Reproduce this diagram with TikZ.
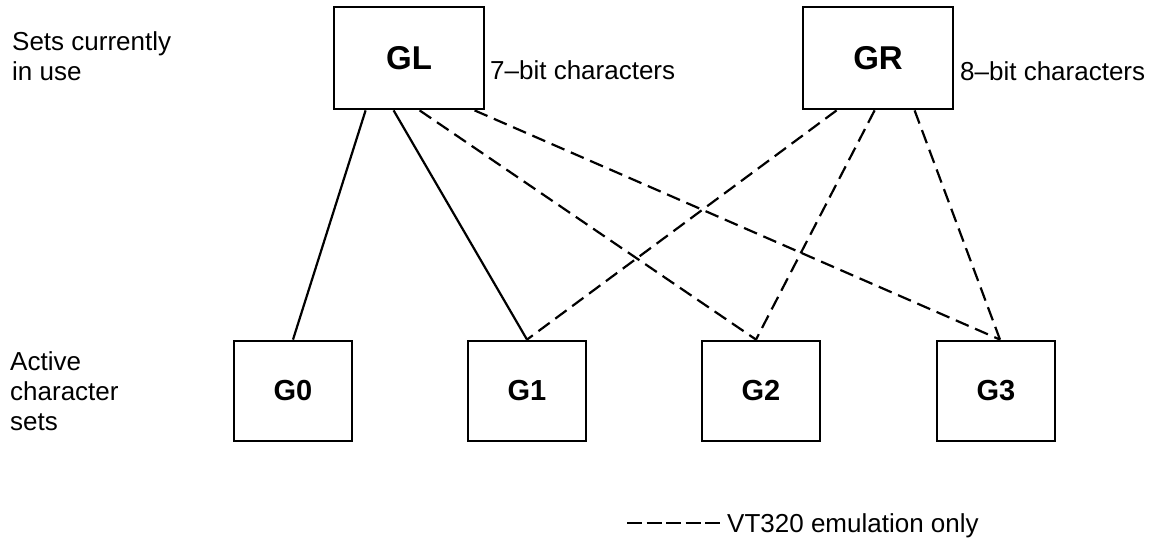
\documentclass[tikz,border=0pt]{standalone}
\usepackage{fontspec}
\setmainfont{Liberation Sans}
\usetikzlibrary{calc}
\begin{document}
\begin{tikzpicture}[x=1pt,y=-1pt,
  topbox/.style={draw,line width=2.8pt,minimum width=150pt,minimum height=102pt,inner sep=0pt,font=\bfseries\fontsize{33}{33}\selectfont},
  setbox/.style={draw,line width=2.8pt,minimum width=118pt,minimum height=100pt,inner sep=0pt,font=\bfseries\fontsize{29}{29}\selectfont},
  note/.style={inner sep=0pt,font=\fontsize{26}{30}\selectfont},
  link/.style={line width=2.2pt},
  vtlink/.style={line width=2.2pt,dash pattern=on 14pt off 7pt},
  legendline/.style={line width=2.2pt,dash pattern=on 15pt off 4.5pt}]
\useasboundingbox (0,0) rectangle (1163,540);
% top boxes
\node[topbox] (GL) at (409,58) {GL};
\node[topbox] (GR) at (878,58) {GR};
% character sets
\node[setbox] (G0) at (293,391) {G0};
\node[setbox] (G1) at (527,391) {G1};
\node[setbox] (G2) at (761,391) {G2};
\node[setbox] (G3) at (996,391) {G3};
% texts
\node[note,anchor=base west] (t7) at (490,80) {7–bit characters};
\node[note,anchor=base west] (t8) at (960,81) {8–bit characters};
\node[note,anchor=north west,align=left] (sets) at (12,31) {Sets currently\\in use};
\node[note,anchor=north west,align=left] (active) at (10,351) {Active\\character\\sets};
% connectors
\draw[link] ([xshift=33pt]GL.south west) -- (G0.north);
\draw[link] ([xshift=61pt]GL.south west) -- (G1.north);
\draw[vtlink] ([xshift=87pt]GL.south west) -- ([xshift=-5pt]G2.north);
\draw[vtlink] ([xshift=142pt]GL.south west) -- ([xshift=4pt]G3.north);
\draw[vtlink] ([xshift=35pt]GR.south west) -- (G1.north);
\draw[vtlink] ([xshift=73pt]GR.south west) -- ([xshift=-5pt]G2.north);
\draw[vtlink] ([xshift=113pt]GR.south west) -- ([xshift=4pt]G3.north);
% legend
\node[note,anchor=base west] (leg) at (727,532) {VT320 emulation only};
\coordinate (la) at (627,523);
\coordinate (lb) at (720,523);
\draw[legendline] (la) -- (lb);
\end{tikzpicture}
\end{document}
